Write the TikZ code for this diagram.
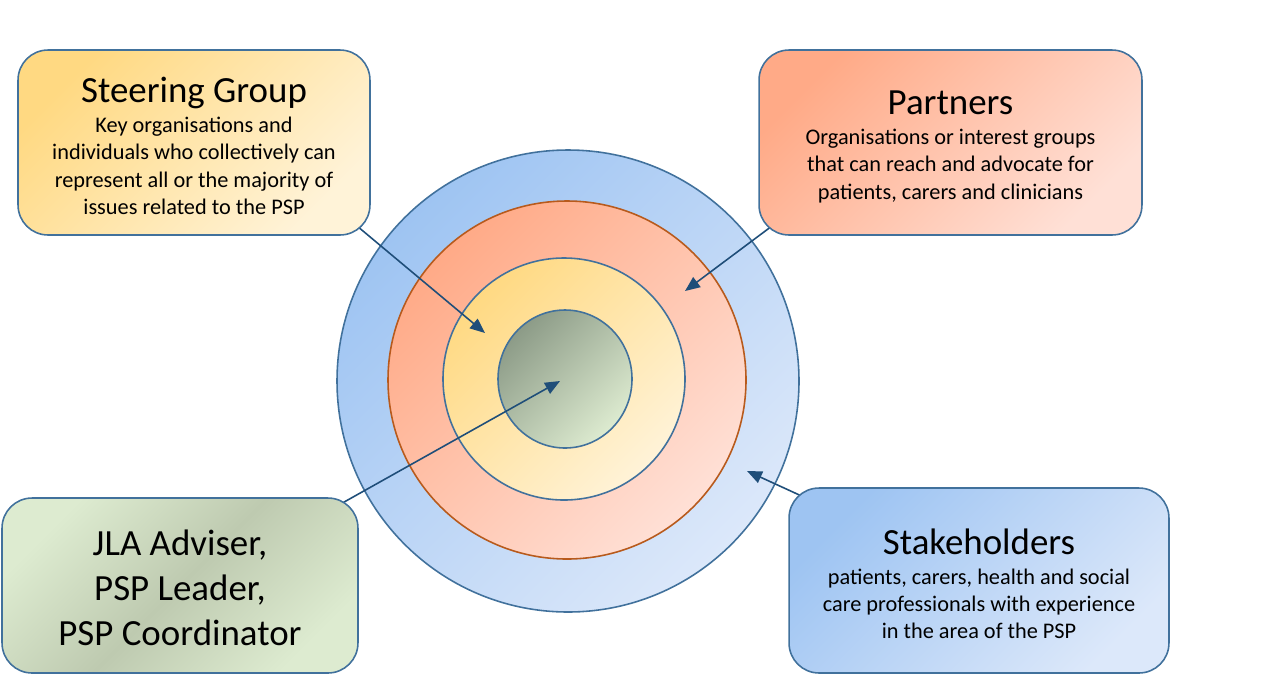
\documentclass[tikz,border=0pt]{standalone}
\usepackage{fontspec}
\setmainfont{Carlito}
\usetikzlibrary{arrows.meta,backgrounds}

\definecolor{boxline}{HTML}{41719C}
\definecolor{ringline}{HTML}{B85A1C}
\definecolor{arrowblue}{HTML}{1F4E79}
\definecolor{golddark}{RGB}{255,217,130}
\definecolor{goldlight}{RGB}{255,243,216}
\definecolor{salmondark}{RGB}{255,170,135}
\definecolor{salmonlight}{RGB}{255,224,214}
\definecolor{bluedark}{RGB}{158,196,242}
\definecolor{bluelight}{RGB}{220,232,250}
\definecolor{sagelight}{RGB}{221,235,208}
\definecolor{sagemid}{RGB}{190,202,176}
\definecolor{sagedark}{RGB}{140,155,135}

\newcommand{\boxtitle}[1]{{\fontsize{21}{25}\selectfont\rule{0pt}{18.5pt}#1}}

\tikzset{
  groupbox/.style 2 args={draw=boxline, line width=0.9pt, rounded corners=0.6cm,
    align=center, inner sep=0pt, top color=#1, bottom color=#2, shading angle=45},
  smalltext/.style={font=\fontsize{12.7}{15.5}\selectfont},
  ring/.style 2 args={draw=#1, line width=0.9pt, shading=axis, top color=#2},
  pointer/.style={draw=arrowblue, line width=0.9pt, -{Triangle[length=8.5pt,width=7pt]}}
}

\begin{document}
\begin{tikzpicture}[x=0.02cm, y=-0.02cm]
        \useasboundingbox (0,0) rectangle (1287,677);
        % the four groups
        \node[groupbox={golddark}{goldlight}, smalltext, minimum width=7.04cm, minimum height=3.7cm]
        (steering) at (194,142.5) {\boxtitle{Steering Group}\\[1.5pt]
        Key organisations and\\ individuals who collectively can\\
        represent all or the majority of\\ issues related to the PSP};
        \node[groupbox={salmondark}{salmonlight}, smalltext, minimum width=7.66cm, minimum height=3.7cm]
        (partners) at (950.5,142.5) {\boxtitle{Partners}\\[1.5pt]
        Organisations or interest groups\\ that can reach and advocate for\\
        patients, carers and clinicians};
        \node[groupbox={sagelight}{sagelight}, middle color=sagemid, shading angle=45,
        font=\fontsize{21}{25.6}\selectfont, minimum width=7.12cm, minimum height=3.5cm]
        (leads) at (180,585.5) {\rule{0pt}{17pt}JLA Adviser,\\ PSP Leader,\\ PSP Coordinator};
        \node[groupbox={bluedark}{bluelight}, smalltext, minimum width=7.6cm, minimum height=3.7cm]
        (stakeholders) at (979,580.5) {\boxtitle{Stakeholders}\\[1.5pt]
        patients, carers, health and social\\ care professionals with experience\\
        in the area of the PSP};
        % rings and pointers behind the boxes
        \begin{scope}[on background layer]
        \path[ring={boxline}{bluedark}, bottom color=bluelight, shading angle=45]
        (568,381) circle[radius=231];
        \path[ring={ringline}{salmondark}, bottom color=salmonlight, shading angle=45]
        (567,380) circle[radius=179];
        \path[ring={boxline}{golddark}, bottom color=goldlight, shading angle=45]
        (564,379) circle[radius=121];
        \path[ring={boxline}{sagedark}, bottom color=sagelight, shading angle=45]
        (565,379) circle[x radius=67, y radius=69];
        \coordinate (steeringtip) at (485,333);
        \coordinate (partnerstip) at (685,291);
        \coordinate (leadstip) at (560,381);
        \coordinate (stakeholderstip) at (747,471);
        \draw[pointer] ([shift={(-14,-10)}]steering.south east) -- (steeringtip);
        \draw[pointer] ([shift={(14,-10)}]partners.south west) -- (partnerstip);
        \draw[pointer] ([shift={(-15,5)}]leads.north east) -- (leadstip);
        \draw[pointer] ([shift={(16,10)}]stakeholders.north west) -- (stakeholderstip);
        \end{scope}
    \end{tikzpicture}
\end{document}
